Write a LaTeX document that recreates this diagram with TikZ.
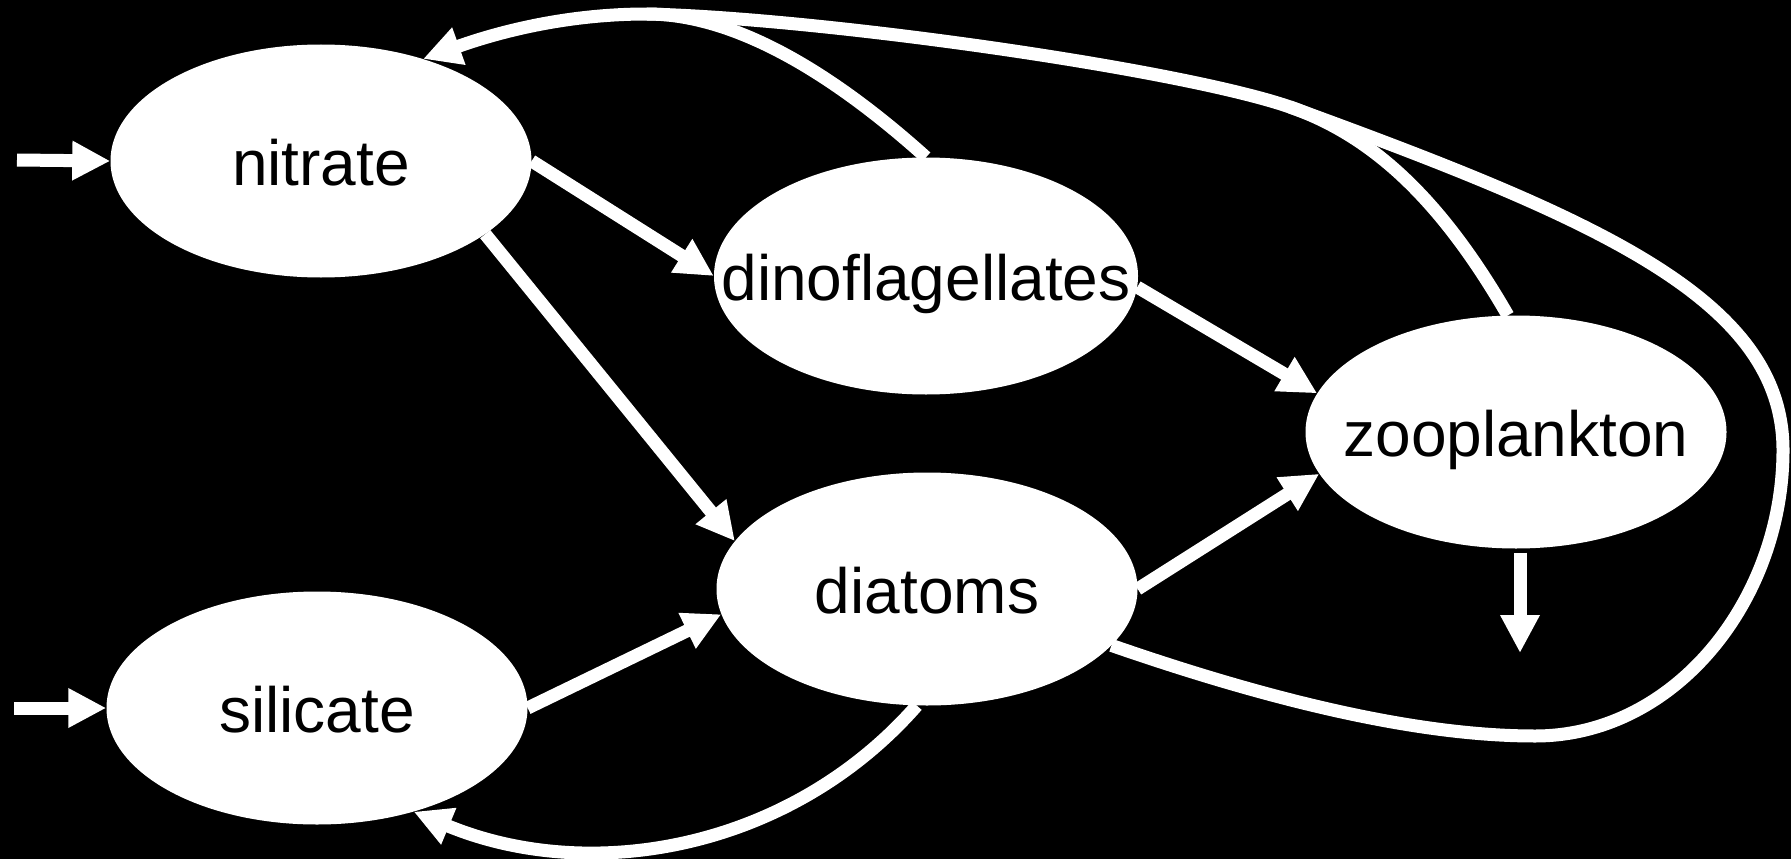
\documentclass[tikz,border=0pt]{standalone}
\usepackage{fontspec}
\setmainfont{Liberation Sans}
\usetikzlibrary{shapes.geometric,arrows.meta}
\begin{document}
\begin{tikzpicture}[x=1pt,y=-1pt,
  box/.style={ellipse,fill=white,draw=none,inner sep=0pt,minimum width=421pt,minimum height=233pt,
    text=black,text height=60pt,text depth=12pt,font=\fontsize{64}{77}\selectfont},
  wire/.style={draw=white,line width=13pt},
  arr/.style={wire,-{Triangle[length=38pt,width=37pt]}},
  bigarr/.style={draw=white,line width=13pt,-{Triangle[length=38pt,width=37pt]}}]
\fill[black] (0,0) rectangle (1791,859);
\useasboundingbox (0,0) rectangle (1791,859);
\node[box] (nitrate) at (321,161) {\makebox[0pt]{nitrate}};
\node[box,minimum width=424pt,minimum height=237pt] (dinof) at (926,276) {\makebox[0pt]{dinoflagellates}};
\node[box] (diatoms) at (927,589) {\makebox[0pt]{diatoms}};
\node[box] (zoo) at (1516,432) {\makebox[0pt]{zooplankton}};
\node[box] (silicate) at (317,708) {\makebox[0pt]{silicate}};
\coordinate (in1) at (17,160);
\coordinate (in2) at (14,708);
\coordinate (out) at (1520,653);
\coordinate (j1) at (647,14);
\coordinate (j2) at (1290,107);
% inputs and output
\draw[arr] (in1) -- (nitrate.west);
\draw[arr] (in2) -- (silicate.west);
\draw[bigarr] ([xshift=4pt,yshift=-4pt]zoo.south) -- (out);
% uptake and grazing
\draw[arr] (nitrate.east) -- (dinof.west);
\draw[arr] (nitrate.-24.7) -- (diatoms.166);
\draw[arr] (silicate.east) -- (diatoms.-173.5);
\draw[arr] (dinof.-3) -- (zoo.169.5);
\draw[arr] (diatoms.east) -- (zoo.-168.4);
% recycling
\draw[wire] (diatoms.-17) .. controls (1266,699) and (1415,736) .. (1535,736)
  .. controls (1675,736) and (1783,600) .. (1783,450)
  .. controls (1783,300) and (1600,220) .. (j2);
\draw[wire] (zoo.94) .. controls (1439,196) and (1370,135) .. (j2)
  .. controls (1180,69) and (820,18) .. (j1);
\draw[arr] (dinof.north) .. controls (840,80) and (740,14) .. (j1)
  .. controls (560,14) and (490,35) .. (nitrate.45);
\draw[arr] (diatoms.-95) .. controls (790,850) and (590,885) .. (silicate.-47);
\end{tikzpicture}
\end{document}
